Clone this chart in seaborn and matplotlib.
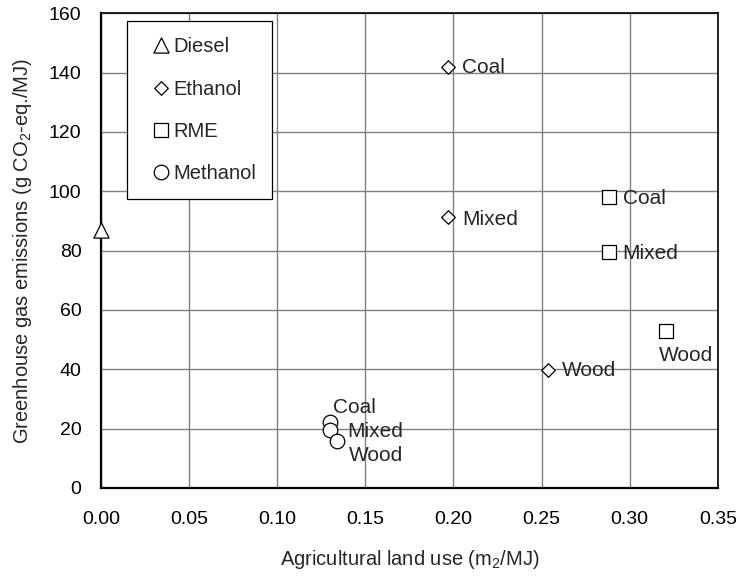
import matplotlib
matplotlib.use("Agg")
import matplotlib.pyplot as plt
import seaborn as sns
import pandas as pd

fuels = ["Diesel", "Ethanol", "Ethanol", "Ethanol", "RME", "RME", "RME",
         "Methanol", "Methanol", "Methanol"]
sources = ["", "Coal", "Mixed", "Wood", "Coal", "Mixed", "Wood",
           "Coal", "Mixed", "Wood"]
land_use = [0.0, 0.197, 0.197, 0.2535, 0.288, 0.288, 0.3205, 0.130, 0.130, 0.134]
ghg = [87, 141.8, 91.3, 39.8, 98.0, 79.5, 52.9, 22.2, 19.5, 15.8]

x_ticks = [0.00, 0.05, 0.10, 0.15, 0.20, 0.25, 0.30, 0.35]
y_ticks = [0, 20, 40, 60, 80, 100, 120, 140, 160]

df = pd.DataFrame({"fuel": fuels, "source": sources, "x": land_use, "y": ghg})

sns.set_style("white")
plt.rcParams["font.family"] = ["Liberation Sans", "DejaVu Sans"]
plt.rcParams["mathtext.fontset"] = "custom"
plt.rcParams["mathtext.rm"] = "Liberation Sans"
plt.rcParams["mathtext.it"] = "Liberation Sans"

fig = plt.figure(figsize=(7.4, 5.76), dpi=100)
ax = fig.add_axes([0.1365, 0.153, 0.8335, 0.824])

fuel_order = ["Diesel", "Ethanol", "RME", "Methanol"]
marker_map = {"Diesel": "^", "Ethanol": "D", "RME": "s", "Methanol": "o"}
size_map = {"Diesel": 120, "Ethanol": 48, "RME": 100, "Methanol": 110}
for fuel in fuel_order:
    sub = df[df.fuel == fuel]
    sns.scatterplot(data=sub, x="x", y="y", marker=marker_map[fuel],
                    s=size_map[fuel], facecolor="white", edgecolor="black",
                    linewidth=0.9, ax=ax, label=fuel, zorder=3, clip_on=False)

offsets = {
    ("Ethanol", "Coal"): (14, 0),
    ("Ethanol", "Mixed"): (14, -2),
    ("Ethanol", "Wood"): (14, -1),
    ("RME", "Coal"): (14, -1),
    ("RME", "Mixed"): (14, -1),
    ("RME", "Wood"): (-7, -25),
    ("Methanol", "Coal"): (3, 15),
    ("Methanol", "Mixed"): (17, -1),
    ("Methanol", "Wood"): (12, -14),
}
for _, r in df.iterrows():
    if r.source:
        dx, dy = offsets[(r.fuel, r.source)]
        ax.annotate(r.source, (r.x, r.y), xytext=(dx, dy),
                    textcoords="offset pixels", ha="left", va="center",
                    fontsize=15, zorder=4)

ax.set_xlim(0, 0.35)
ax.set_ylim(0, 160)
ax.set_xticks(x_ticks)
ax.set_xticklabels([f"{v:.2f}" for v in x_ticks])
ax.set_yticks(y_ticks)
ax.grid(True, color="#808080", linewidth=1.0)
ax.set_axisbelow(True)
for side in ["left", "bottom"]:
    ax.spines[side].set_linewidth(1.6)
    ax.spines[side].set_color("black")
for side in ["top", "right"]:
    ax.spines[side].set_linewidth(1.2)
    ax.spines[side].set_color("black")
ax.tick_params(axis="both", direction="inout", length=10, width=1.4,
               labelsize=14, colors="black")
ax.tick_params(axis="y", pad=9)
ax.tick_params(axis="x", pad=12)

ax.set_xlabel("Agricultural land use (m$_2$/MJ)", fontsize=14.5, labelpad=14)
ax.set_ylabel("Greenhouse gas emissions (g CO$_2$-eq./MJ)", fontsize=14.5,
              labelpad=11)

leg = ax.legend(loc="upper left", bbox_to_anchor=(0.042, 0.983),
                frameon=True, fancybox=False, edgecolor="black",
                framealpha=1, fontsize=14.5, labelspacing=1.15,
                handlelength=1.4, handletextpad=0.1, borderpad=0.8,
                borderaxespad=0, scatteryoffsets=[0.5])
leg.get_frame().set_linewidth(0.9)
for h, fuel in zip(leg.legend_handles, fuel_order):
    h.set_facecolor("white")
    h.set_edgecolor("black")
    h.set_sizes([size_map[fuel]])
    h.set_offsets(h.get_offsets() + [2.5, 0])

fig.savefig("out.png", dpi=100)
